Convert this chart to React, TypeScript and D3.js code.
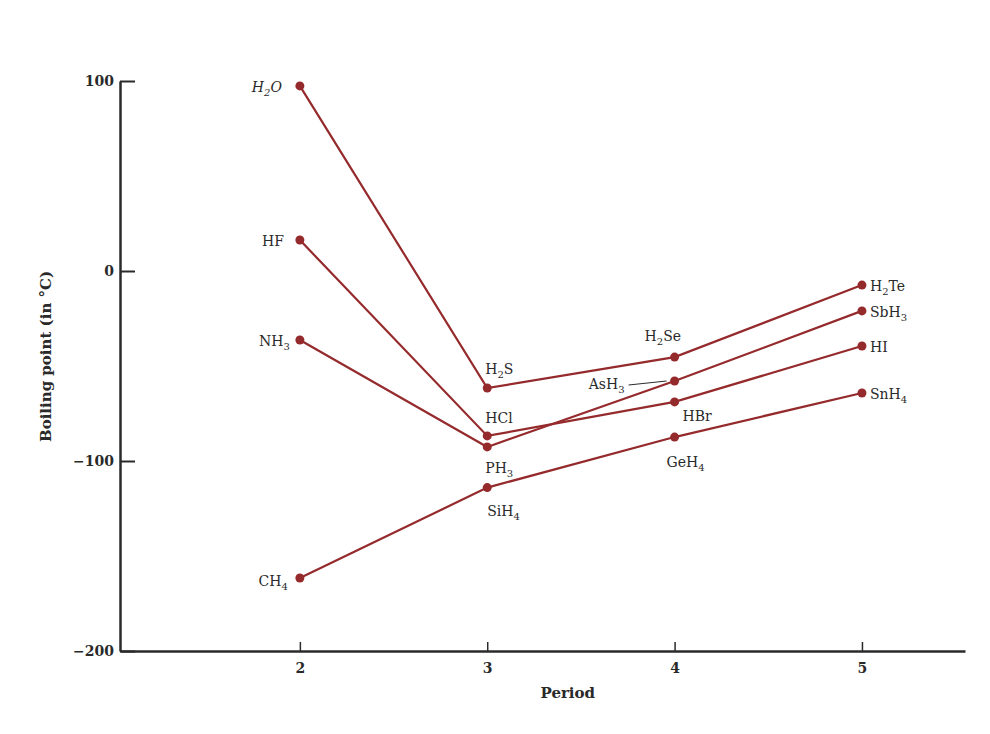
import React, { useEffect, useRef } from "react";
import * as d3 from "d3";

// boiling points (°C), periods 2..5
const periods = [2, 3, 4, 5];
const group14 = [-161.6, -114, -87.4, -64.2];
const group15 = [-36.3, -92.6, -57.9, -21];
const group16 = [97.4, -61.6, -45.3, -7.4];
const group17 = [16.3, -86.8, -68.9, -39.5];

// [base, subscript, tail] per point
const names14 = [["CH", "4", ""], ["SiH", "4", ""], ["GeH", "4", ""], ["SnH", "4", ""]];
const names15 = [["NH", "3", ""], ["PH", "3", ""], ["AsH", "3", ""], ["SbH", "3", ""]];
const names16 = [["H", "2", "O"], ["H", "2", "S"], ["H", "2", "Se"], ["H", "2", "Te"]];
const names17 = [["HF", "", ""], ["HCl", "", ""], ["HBr", "", ""], ["HI", "", ""]];

const yTicks = [100, 0, -100, -200];

// label placement relative to each point: [dx, dy, anchor]
const placement: Record<string, [number, number, string]> = {
  CH4: [-12, 8, "end"], SiH4: [0, 28, "start"], GeH4: [-8, 30, "start"], SnH4: [8, 6, "start"],
  NH3: [-10, 6, "end"], PH3: [-2, 26, "start"], AsH3: [-50, 8, "end"], SbH3: [8, 6, "start"],
  H2O: [-18, 6, "end"], H2S: [-2, -14, "start"], H2Se: [-30, -16, "start"], H2Te: [8, 6, "start"],
  HF: [-16, 6, "end"], HCl: [-2, -13, "start"], HBr: [8, 19, "start"], HI: [8, 6, "start"],
};

const App: React.FC = () => {
  const svgRef = useRef<SVGSVGElement | null>(null);

  useEffect(() => {
    const svg = d3.select(svgRef.current);
    svg.selectAll("*").remove();

    const W = 990;
    const H = 734;
    const font = "'DejaVu Serif', 'Liberation Serif', serif";
    const red = "#952a2c";
    const ink = "#2a2a2a";

    svg.append("rect").attr("width", W).attr("height", H).attr("fill", "white");

    const x = d3.scaleLinear().domain([1.04, 5.55]).range([120, 965]);
    const y = d3.scaleLinear().domain([-200, 100]).range([651, 81]);

    // y axis
    const yAxis = svg
      .append("g")
      .attr("transform", `translate(${x(1.04)},0)`)
      .call(
        d3.axisLeft(y).tickValues(yTicks).tickSizeInner(-15).tickSizeOuter(0).tickPadding(22)
      );
    yAxis.select(".domain").attr("stroke", ink).attr("stroke-width", 2.5);
    yAxis.selectAll(".tick line").attr("stroke", ink).attr("stroke-width", 2);
    yAxis
      .selectAll(".tick text")
      .attr("fill", ink)
      .attr("x", -6)
      .style("font-family", font)
      .style("font-size", "14px")
      .style("font-weight", "bold");

    // x axis
    const xAxis = svg
      .append("g")
      .attr("transform", `translate(0,${y(-200)})`)
      .call(d3.axisBottom(x).tickValues(periods).tickFormat(d3.format("d")).tickSizeInner(-9).tickSizeOuter(0).tickPadding(12));
    xAxis.select(".domain").attr("stroke", ink).attr("stroke-width", 2.5);
    xAxis.selectAll(".tick line").attr("stroke", ink).attr("stroke-width", 1.5);
    xAxis
      .selectAll(".tick text")
      .attr("fill", ink)
      .style("font-family", font)
      .style("font-size", "14px")
      .style("font-weight", "bold");

    // axis titles
    svg
      .append("text")
      .attr("x", x(3.43))
      .attr("y", 698)
      .attr("text-anchor", "middle")
      .attr("fill", ink)
      .style("font-family", font)
      .style("font-size", "15px")
      .style("font-weight", "bold")
      .text("Period");

    svg
      .append("text")
      .attr("transform", `translate(51,${y(-45)}) rotate(-90)`)
      .attr("text-anchor", "middle")
      .attr("fill", ink)
      .style("font-family", font)
      .style("font-size", "15px")
      .style("font-weight", "bold")
      .text("Boiling point (in °C)");

    const series = [
      { values: group16, names: names16 },
      { values: group17, names: names17 },
      { values: group15, names: names15 },
      { values: group14, names: names14 },
    ];

    const line = d3
      .line<number>()
      .x((_, i) => x(periods[i]))
      .y((d) => y(d));

    series.forEach((s) => {
      svg
        .append("path")
        .datum(s.values)
        .attr("d", line)
        .attr("fill", "none")
        .attr("stroke", red)
        .attr("stroke-width", 2.2);
    });

    series.forEach((s) => {
      svg
        .append("g")
        .selectAll("circle")
        .data(s.values)
        .enter()
        .append("circle")
        .attr("cx", (_, i) => x(periods[i]))
        .attr("cy", (d) => y(d))
        .attr("r", 4.5)
        .attr("fill", red);

      s.values.forEach((v, i) => {
        const [base, sub, tail] = s.names[i];
        const key = base + sub + tail;
        const [dx, dy, anchor] = placement[key];
        const t = svg
          .append("text")
          .attr("x", x(periods[i]) + dx)
          .attr("y", y(v) + dy)
          .attr("text-anchor", anchor)
          .attr("fill", ink)
          .style("font-family", font)
          .style("font-size", "14px")
          .style("font-style", key === "H2O" ? "italic" : "normal");
        t.append("tspan").text(base);
        if (sub) {
          t.append("tspan").attr("dy", 4).style("font-size", "10px").text(sub);
          if (tail) t.append("tspan").attr("dy", -4).text(tail);
        }
        if (key === "AsH3") {
          svg
            .append("line")
            .attr("x1", x(periods[i]) - 46)
            .attr("y1", y(v) + 4)
            .attr("x2", x(periods[i]) - 8)
            .attr("y2", y(v))
            .attr("stroke", ink)
            .attr("stroke-width", 1);
        }
      });
    });
  }, []);

  return <svg ref={svgRef} width={990} height={734} style={{ display: "block", margin: "-8px" }} />;
};

export default App;
